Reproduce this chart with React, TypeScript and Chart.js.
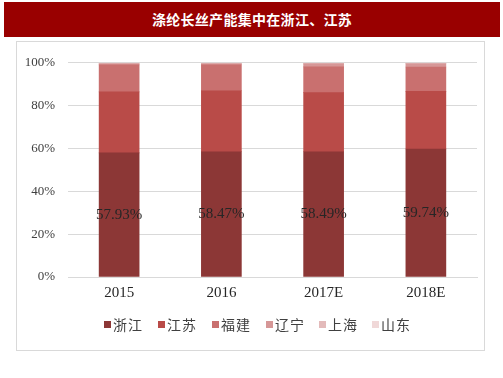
import React, { useEffect, useRef } from "react";
import { Chart, registerables } from "chart.js";

Chart.register(...registerables);

const TITLE = "涤纶长丝产能集中在浙江、江苏";
const CATEGORIES = ["2015", "2016", "2017E", "2018E"];
const SERIES_NAMES = ["浙江", "江苏", "福建", "辽宁", "上海", "山东"];
const ZHEJIANG = [57.93, 58.47, 58.49, 59.74];
const JIANGSU = [28.5, 28.6, 27.6, 26.9];
const FUJIAN = [12.6, 12.0, 12.0, 11.4];
const LIAONING = [0.5, 0.5, 1.4, 1.5];
const SHANGHAI = [0.3, 0.3, 0.3, 0.3];
const SHANDONG = [0.17, 0.13, 0.21, 0.16];
const SERIES_VALUES = [ZHEJIANG, JIANGSU, FUJIAN, LIAONING, SHANGHAI, SHANDONG];
const COLORS = ["#8C3736", "#B94B48", "#C9706F", "#D69797", "#E3BABA", "#F0D8D8"];
const Y_TICKS_STEP = 20;

const labelPlugin = {
  id: "segLabels",
  afterDatasetsDraw(chart: any) {
    const ctx = chart.ctx;
    const meta = chart.getDatasetMeta(0);
    ctx.save();
    ctx.font = "15px 'Liberation Serif'";
    ctx.fillStyle = "#262626";
    ctx.textAlign = "center";
    ctx.textBaseline = "middle";
    meta.data.forEach((el: any, i: number) => {
      const cy = (el.y + el.base) / 2;
      ctx.fillText(ZHEJIANG[i].toFixed(2) + "%", el.x, cy);
    });
    ctx.restore();
  },
};

export default function App() {
  const ref = useRef<HTMLCanvasElement>(null);
  useEffect(() => {
    if (!ref.current) return;
    const chart = new Chart(ref.current, {
      type: "bar",
      data: {
        labels: CATEGORIES,
        datasets: SERIES_NAMES.map((n, i) => ({
          label: n,
          data: SERIES_VALUES[i],
          backgroundColor: COLORS[i],
          borderWidth: 0,
          barThickness: 40,
        })),
      },
      options: {
        responsive: false,
        animation: false,
        layout: { padding: { left: 0, right: 7, top: 16, bottom: 43 } },
        plugins: { legend: { display: false }, tooltip: { enabled: false } },
        scales: {
          x: {
            stacked: true,
            grid: { display: false, drawTicks: false },
            border: { display: true, color: "#d9d9d9" },
            ticks: {
              padding: 7,
              color: "#262626",
              font: { family: "'Liberation Serif'", size: 15 },
            },
            afterFit: (s: any) => {
              s.height = 30;
            },
          },
          y: {
            stacked: true,
            min: 0,
            max: 100,
            grid: { color: "#d9d9d9", drawTicks: false, lineWidth: 1 },
            border: { display: false },
            ticks: {
              stepSize: Y_TICKS_STEP,
              padding: 13,
              color: "#404040",
              font: { family: "'Liberation Serif'", size: 13 },
              callback: (v: any) => v + "%",
            },
            afterFit: (s: any) => {
              s.width = 51;
            },
          },
        },
      },
      plugins: [labelPlugin],
    });
    return () => chart.destroy();
  }, []);

  const legendX = [104, 158, 212, 266, 319, 372];

  return (
    <div style={{ position: "absolute", left: 0, top: 0, width: 503, height: 378, background: "#fff" }}>
      <div
        style={{
          position: "absolute",
          left: 4,
          top: 2,
          width: 496,
          height: 35,
          background: "#990000",
          color: "#fff",
          fontFamily: "'Noto Sans CJK SC'",
          fontWeight: 700,
          fontSize: 14,
          letterSpacing: 0.3,
          lineHeight: "35px",
          textAlign: "center",
        }}
      >
        {TITLE}
      </div>
      <div
        style={{
          position: "absolute",
          left: 16,
          top: 41,
          width: 469,
          height: 310,
          boxSizing: "border-box",
          border: "1px solid #d9d9d9",
        }}
      >
        <canvas ref={ref} width={467} height={308} style={{ display: "block", width: 467, height: 308 }} />
      </div>
      {SERIES_NAMES.map((n, i) => (
        <div
          key={n}
          style={{
            position: "absolute",
            left: legendX[i],
            top: 314,
            height: 20,
            display: "flex",
            alignItems: "center",
            whiteSpace: "nowrap",
          }}
        >
          <span style={{ display: "inline-block", width: 7, height: 7, background: COLORS[i], marginRight: 2 }} />
          <span
            style={{
              fontFamily: "'Noto Sans CJK SC'",
              fontSize: 14,
              letterSpacing: 1,
              color: "#404040",
              lineHeight: "20px",
            }}
          >
            {n}
          </span>
        </div>
      ))}
    </div>
  );
}
